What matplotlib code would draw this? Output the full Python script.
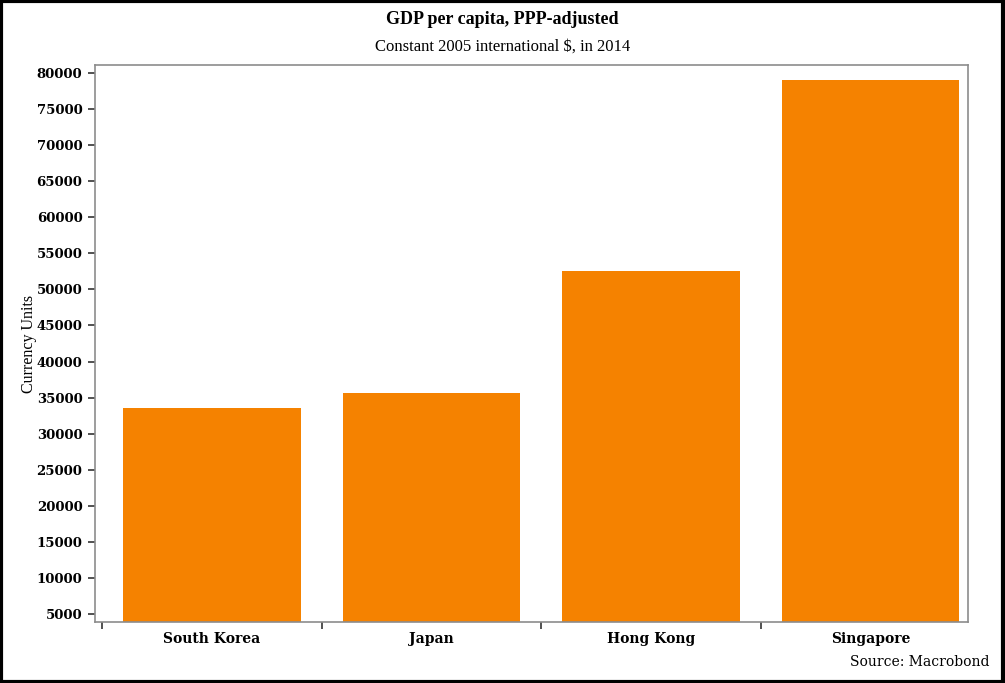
import matplotlib
matplotlib.use('Agg')
import matplotlib.pyplot as plt
from matplotlib.patches import Rectangle
import numpy as np

# data
countries = ['South Korea', 'Japan', 'Hong Kong', 'Singapore']
gdp_pc = [33600, 35650, 52550, 79000]
yticks = list(range(5000, 80001, 5000))

bar_color = '#F58200'
spine_color = '#8c8c8c'

fig = plt.figure(figsize=(10.05, 6.83), dpi=100)
ax = fig.add_axes([0.0945, 0.0893, 0.8687, 0.8155])

x = np.arange(len(countries))
ax.bar(x, gdp_pc, width=0.81, color=bar_color, zorder=2)

ax.set_xlim(-0.533, 3.444)
ax.set_ylim(3890, 81100)

# y axis
ax.set_yticks(yticks)
ax.set_yticklabels([str(v) for v in yticks], family='DejaVu Serif',
                   fontweight='bold', fontsize=9.5)
ax.tick_params(axis='y', length=5, width=1.2, color='#333333', pad=4)

# x axis: ticks at category boundaries, labels at bar centres
ax.set_xticks(np.arange(len(countries)) - 0.5)
ax.set_xticklabels([])
ax.tick_params(axis='x', length=5, width=1.2, color='#333333', direction='out')
for i, c in enumerate(countries):
    ax.text(i, -0.018, c, transform=ax.get_xaxis_transform(), ha='center', va='top',
            family='DejaVu Serif', fontweight='bold', fontsize=10)

for s in ax.spines.values():
    s.set_color(spine_color)
    s.set_linewidth(1.2)

ax.set_ylabel('Currency Units', family='Liberation Serif', fontsize=11.5)
ax.yaxis.set_label_coords(-0.066, 0.5)

fig.text(0.5, 0.972, 'GDP per capita, PPP-adjusted', ha='center', va='center',
         family='Liberation Serif', fontweight='bold', fontsize=13)
fig.text(0.5, 0.931, 'Constant 2005 international $, in 2014', ha='center', va='center',
         family='Liberation Serif', fontsize=12)
fig.text(0.985, 0.031, 'Source: Macrobond', ha='right', va='center',
         family='DejaVu Serif', fontsize=10)

# black frame around the figure
fig.patches.append(Rectangle((0.001, 0.002), 0.997, 0.996, transform=fig.transFigure,
                             fill=False, edgecolor='black', linewidth=3))

plt.savefig('out.png', dpi=100)
